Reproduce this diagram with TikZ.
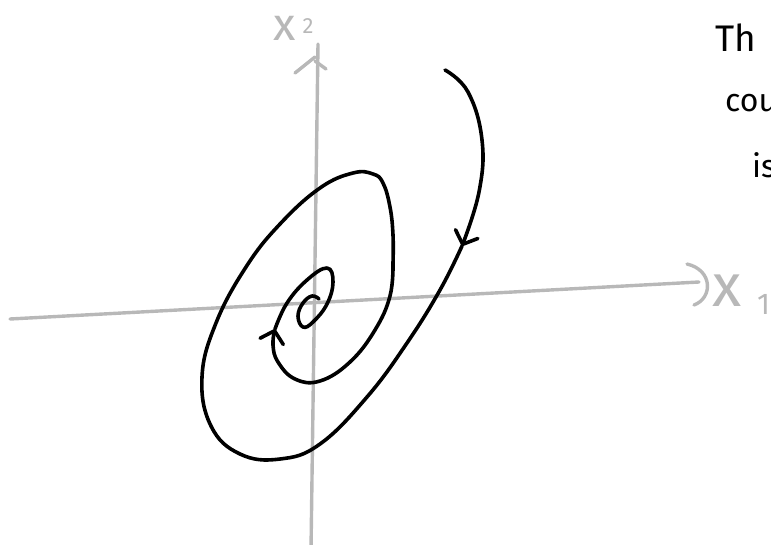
\documentclass[tikz,border=0pt]{standalone}
\usepackage{fontspec}
\setmainfont{Fira Sans}
\usetikzlibrary{arrows.meta}
\definecolor{sketchgrey}{HTML}{B8B8B8}
\tikzset{
  axis/.style={draw=sketchgrey, line width=3.4pt, line cap=round, line join=round},
  traj/.style={draw=black, line width=3.6pt, line cap=round, line join=round},
  trajarr/.style={traj, -{Straight Barb[length=11pt, width=24pt, line cap=round, line join=round]}},
  lbl/.style={font=\fontsize{#1}{#1}\selectfont, inner sep=0pt},
}

\begin{document}
\begin{tikzpicture}[x=1pt, y=-1pt]
  \useasboundingbox (0,0) rectangle (771,544);
  % axes
  \coordinate (xl) at (10,319);
  \coordinate (xr) at (699,282);
  \coordinate (yb) at (311,550);
  \coordinate (yt) at (318,44);
  \draw[axis] (xl) -- (xr);
  \draw[axis] (687,264) .. controls (713,270) and (713,298) .. (694,305);
  \draw[axis] (yb) -- (yt);
  \draw[axis] (295,73) -- (315,57);
  \draw[axis] (315,61) -- (326,69);
  \node[lbl=46, text=sketchgrey, anchor=base] (xtwo) at (285,40) {x};
  \node[lbl=22, text=sketchgrey, anchor=base] (xtwosub) at (308,33) {2};
  \node[lbl=60, text=sketchgrey, anchor=base west] (xone) at (712,306) {x};
  \node[lbl=30, text=sketchgrey, anchor=base west] (xonesub) at (757,314) {1};
  % trajectory
  \coordinate (start) at (445,70);
  \coordinate (arr1) at (462,246);
  \coordinate (arr2) at (393,263);
  \coordinate (arr3) at (275,329);
  \draw[trajarr] plot[smooth, tension=0.7] coordinates
    {(start) (468,92) (482,140) (479,192) (arr1)};
  \draw[traj] plot[smooth, tension=0.7] coordinates
    {(arr1) (440,290) (407,343) (367,397) (320,444) (280,459) (240,454)
     (211,426) (202,377) (216,323) (246,267) (280,224) (320,188) (353,173)
     (373,174) (383,183) (390,207) (393,235) (arr2)};
  \draw[trajarr] plot[smooth, tension=0.7] coordinates
    {(arr2) (390,296) (375,330) (350,362) (320,381) (295,379) (278,362)
     (273,345) (arr3)};
  \draw[traj] plot[smooth, tension=0.7] coordinates
    {(arr3) (287,303) (307,280) (327,268) (333,282) (327,304) (313,322)
     (303,327) (298,316) (303,303) (312,296) (319,299)};
  % note
  \node[lbl=37, anchor=base west] (noteone) at (715,51) {Th};
  \node[lbl=32, anchor=base west] (notetwo) at (725,111) {cou};
  \node[lbl=32, anchor=base west] (notethree) at (752,177) {is};
\end{tikzpicture}
\end{document}
